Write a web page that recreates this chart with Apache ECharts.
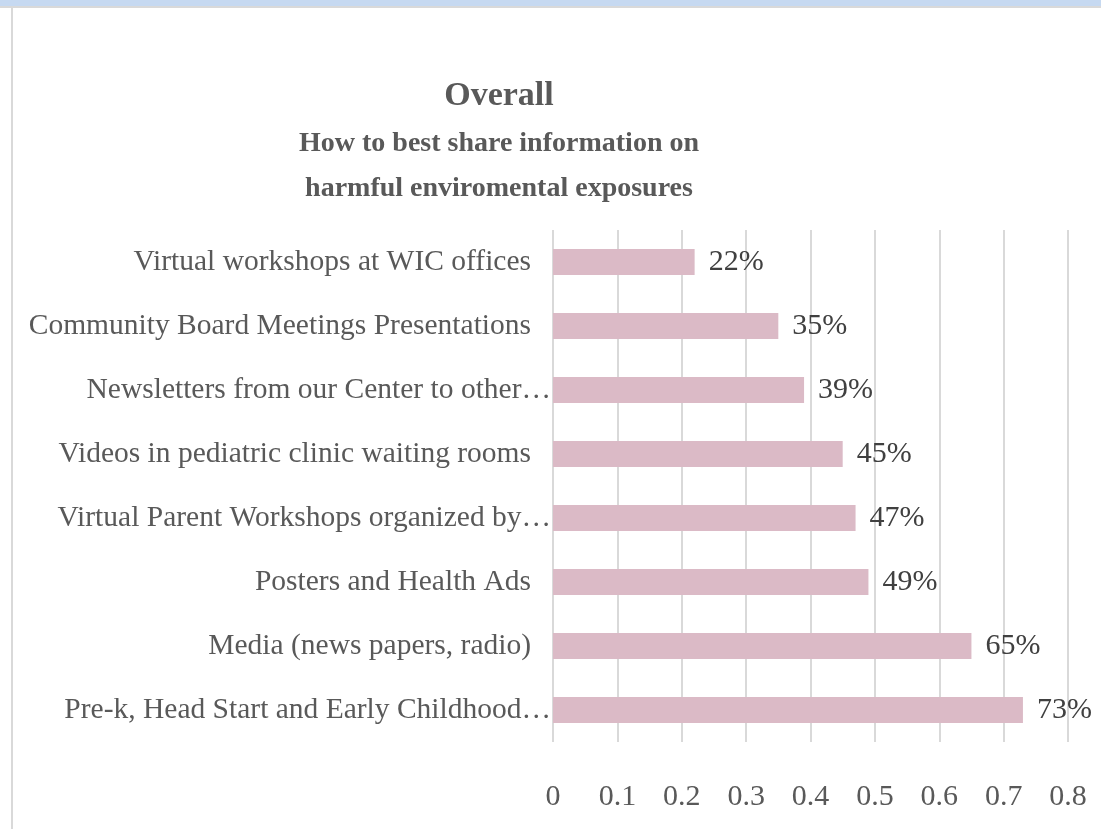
<!DOCTYPE html>
<html><head><meta charset="utf-8">
<script src="https://cdn.jsdelivr.net/npm/echarts@6/dist/echarts.min.js"></script>
<style>html,body{margin:0;padding:0;background:#fff}#c{width:1101px;height:829px}</style>
</head><body><div id="c"></div>
<script>
const categories = [
  "Virtual workshops at WIC offices",
  "Community Board Meetings Presentations",
  "Newsletters from our Center to other…",
  "Videos in pediatric clinic waiting rooms",
  "Virtual Parent Workshops organized by…",
  "Posters and Health Ads",
  "Media (news papers, radio)",
  "Pre-k, Head Start and Early Childhood…"
];
const values = [0.22, 0.35, 0.39, 0.45, 0.47, 0.49, 0.65, 0.73];
const valueLabels = ["22%", "35%", "39%", "45%", "47%", "49%", "65%", "73%"];
const tickValues = [0, 0.1, 0.2, 0.3, 0.4, 0.5, 0.6, 0.7, 0.8];

const FONT = "'Liberation Serif', 'DejaVu Serif', serif";
const chart = echarts.init(document.getElementById('c'));
chart.setOption({
  backgroundColor: '#fff',
  animation: false,
  title: {
    text: 'Overall',
    subtext: 'How to best share information on\nharmful enviromental exposures',
    left: 494, top: 74, textAlign: 'center',
    textStyle: {fontFamily: FONT, fontSize: 34, fontWeight: 'bold', color: '#595959'},
    subtextStyle: {fontFamily: FONT, fontSize: 28, fontWeight: 'bold', color: '#595959', lineHeight: 45},
    itemGap: 8
  },
  graphic: [
    {type: 'rect', shape: {x: 0, y: 0, width: 1101, height: 6}, style: {fill: '#c6d9f1'}, silent: true},
    {type: 'rect', shape: {x: 0, y: 6, width: 1101, height: 2}, style: {fill: '#d9d9d9'}, silent: true},
    {type: 'rect', shape: {x: 11, y: 8, width: 2, height: 821}, style: {fill: '#d9d9d9'}, silent: true}
  ],
  grid: {left: 553, right: 33, top: 230, bottom: 87, containLabel: false},
  xAxis: {
    type: 'value', min: 0, max: 0.8, interval: 0.1,
    axisLine: {show: false}, axisTick: {show: false},
    splitLine: {show: true, lineStyle: {color: '#d9d9d9', width: 2}},
    axisLabel: {
      margin: 40, fontFamily: FONT, fontSize: 30, color: '#595959',
      formatter: v => {
        const t = tickValues.find(x => Math.abs(x - v) < 1e-9);
        return t === 0 ? '0' : String(Math.round(t * 10) / 10);
      }
    }
  },
  yAxis: {
    type: 'category', data: categories, inverse: true,
    axisLine: {show: false}, axisTick: {show: false},
    axisLabel: {
      margin: 2, fontFamily: FONT, fontSize: 29.5, color: '#595959',
      formatter: v => v.endsWith('…') ? '{t|' + v + '}' : '{p|' + v + '}',
      rich: {
        t: {fontFamily: FONT, fontSize: 29.5, color: '#595959'},
        p: {fontFamily: FONT, fontSize: 29.5, color: '#595959', padding: [0, 20, 0, 0]}
      }
    }
  },
  series: [{
    type: 'bar', data: values, barWidth: 26,
    itemStyle: {color: '#dbbac6'},
    label: {
      show: true, position: 'right', distance: 14,
      fontFamily: FONT, fontSize: 30, color: '#404040',
      formatter: p => valueLabels[p.dataIndex]
    }
  }]
});
</script></body></html>
